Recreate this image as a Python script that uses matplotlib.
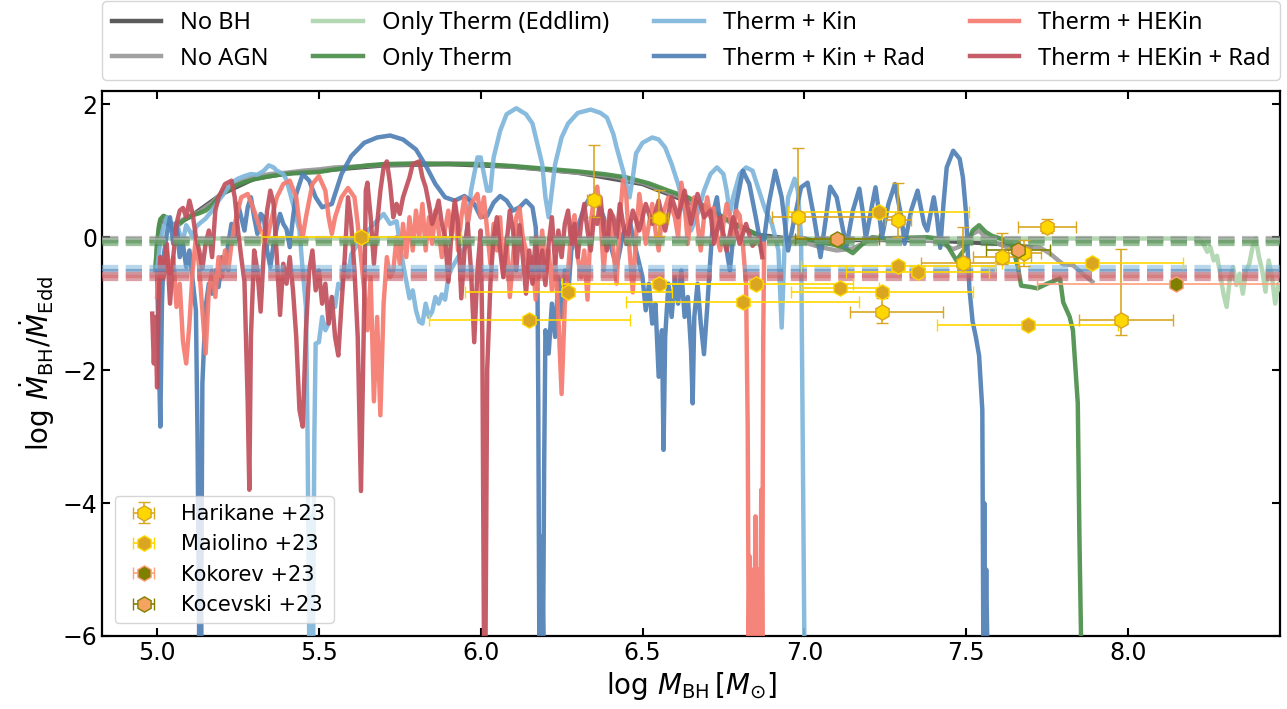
import matplotlib
matplotlib.use('Agg')
import matplotlib.pyplot as plt

# ---- simulation tracks, (log M_BH, log Mdot/Mdot_Edd) ----
no_bh = [(5.00, -0.4), (5.01, 0.25), (5.05, 0.18), (5.10, 0.30), (5.20, 0.65), (5.30, 0.88),
         (5.40, 0.96), (5.50, 1.00), (5.70, 1.08), (5.90, 1.10), (6.10, 1.06), (6.30, 0.97),
         (6.50, 0.80), (6.70, 0.42), (6.85, 0.04), (7.00, -0.05), (7.20, -0.04), (7.40, -0.05),
         (7.60, -0.10), (7.70, -0.15)]

no_agn = [(4.995, -0.5), (5.00, -0.1), (5.01, 0.25), (5.02, 0.32), (5.04, 0.20), (5.06, 0.20),
          (5.09, 0.30), (5.13, 0.38), (5.17, 0.52), (5.21, 0.72), (5.25, 0.82), (5.30, 0.91),
          (5.35, 0.95), (5.40, 0.97), (5.45, 1.00), (5.50, 1.02), (5.55, 1.05), (5.60, 1.06),
          (5.70, 1.09), (5.80, 1.10), (5.90, 1.11), (6.00, 1.10), (6.10, 1.06), (6.20, 1.02),
          (6.30, 0.97), (6.40, 0.92), (6.50, 0.82), (6.56, 0.71), (6.62, 0.60), (6.68, 0.45),
          (6.72, 0.35), (6.76, 0.25), (6.80, 0.15), (6.85, 0.05), (6.90, -0.02), (6.95, -0.05),
          (7.00, -0.08), (7.05, -0.15), (7.10, -0.20), (7.15, -0.17), (7.20, -0.05), (7.28, -0.02),
          (7.36, -0.03), (7.42, -0.08), (7.46, -0.18), (7.50, -0.10), (7.52, 0.05), (7.54, 0.10),
          (7.56, 0.00), (7.58, -0.06), (7.61, -0.12), (7.63, -0.16), (7.66, -0.18), (7.70, -0.15),
          (7.73, -0.16), (7.76, -0.25), (7.80, -0.41), (7.83, -0.42), (7.86, -0.55), (7.89, -0.67)]

eddlim = [(4.995, -0.45), (5.005, -0.1), (5.015, -0.02), (8.22, -0.02), (8.235, -0.12),
          (8.245, -0.22), (8.255, -0.15), (8.265, -0.35), (8.275, -0.28), (8.285, -0.55),
          (8.295, -0.85), (8.305, -1.05), (8.315, -0.62), (8.325, -0.45), (8.335, -0.72),
          (8.345, -0.55), (8.355, -0.85), (8.365, -0.50), (8.375, -0.40), (8.385, -0.15),
          (8.395, -0.02), (8.405, -0.30), (8.415, -0.50), (8.425, -0.82), (8.435, -0.35),
          (8.445, -0.60), (8.455, -1.00), (8.465, -0.70), (8.475, -0.80)]

only_therm = [(4.995, -0.45), (5.00, -0.1), (5.005, 0.15), (5.01, 0.27), (5.02, 0.32), (5.03, 0.30),
              (5.04, 0.18), (5.05, 0.13), (5.06, 0.16), (5.07, 0.20), (5.09, 0.28), (5.11, 0.33),
              (5.13, 0.36), (5.15, 0.40), (5.17, 0.48), (5.19, 0.60), (5.21, 0.68), (5.24, 0.77),
              (5.27, 0.83), (5.30, 0.87), (5.34, 0.91), (5.38, 0.94), (5.42, 0.96), (5.46, 0.97),
              (5.50, 0.98), (5.55, 1.02), (5.60, 1.05), (5.65, 1.08), (5.70, 1.10), (5.80, 1.11),
              (5.90, 1.10), (6.00, 1.10), (6.10, 1.07), (6.20, 1.03), (6.30, 0.99), (6.38, 0.95),
              (6.45, 0.90), (6.52, 0.81), (6.58, 0.70), (6.64, 0.60), (6.70, 0.45), (6.75, 0.30),
              (6.80, 0.17), (6.85, 0.05), (6.89, -0.01), (6.93, -0.02), (6.98, -0.01), (7.03, -0.05),
              (7.08, -0.10), (7.12, -0.15), (7.15, -0.24), (7.18, -0.10), (7.21, 0.00), (7.25, -0.02),
              (7.30, -0.01), (7.38, 0.00), (7.43, -0.03), (7.47, -0.35), (7.50, -0.15), (7.52, 0.10),
              (7.54, 0.18), (7.56, 0.08), (7.58, 0.02), (7.60, -0.01), (7.62, -0.05), (7.64, -0.09),
              (7.66, -0.45), (7.67, -0.73), (7.70, -0.75), (7.72, -0.77), (7.75, -0.70), (7.79, -0.62),
              (7.80, -0.98), (7.82, -1.20), (7.83, -1.40), (7.845, -2.5), (7.85, -4.5), (7.855, -6.0)]

therm_kin = [(5.00, -0.5), (5.01, -0.05), (5.02, 0.15), (5.03, 0.30), (5.04, 0.25), (5.05, 0.10),
             (5.06, 0.22), (5.07, 0.05), (5.08, -0.05), (5.09, 0.18), (5.10, 0.10), (5.11, 0.00),
             (5.12, 0.15), (5.13, 0.20), (5.15, 0.28), (5.17, 0.40), (5.19, 0.55), (5.21, 0.68),
             (5.23, 0.82), (5.25, 0.88), (5.27, 0.92), (5.29, 0.95), (5.31, 0.94), (5.33, 1.00),
             (5.345, 1.08), (5.36, 1.05), (5.37, 1.00), (5.39, 0.95), (5.40, 0.86), (5.42, 0.50),
             (5.44, 0.10), (5.45, -0.50), (5.46, -1.05), (5.465, -3.0), (5.47, -6.0), (5.473, -4.2),
             (5.476, -6.0), (5.479, -5.0), (5.482, -6.0), (5.486, -3.0), (5.49, -1.6), (5.50, -1.58),
             (5.51, -1.2), (5.52, -1.4), (5.53, -1.3), (5.54, -0.9), (5.55, -1.05), (5.56, -0.7),
             (5.57, -0.78), (5.58, -0.4), (5.59, -0.6), (5.60, -0.26), (5.62, -0.1), (5.64, 0.0),
             (5.65, 0.09), (5.67, 0.2), (5.70, 0.35), (5.72, 0.2), (5.74, 0.24), (5.76, -0.4),
             (5.78, -0.92), (5.79, -0.8), (5.80, -1.1), (5.81, -1.27), (5.82, -1.3), (5.83, -1.0),
             (5.84, -1.2), (5.85, -1.12), (5.86, -0.9), (5.87, -1.0), (5.88, -0.86), (5.89, -0.94),
             (5.90, -0.6), (5.91, -0.47), (5.93, -0.3), (5.95, -0.16), (5.96, 0.2), (5.97, 0.7),
             (5.99, 1.2), (6.00, 1.2), (6.02, 0.7), (6.03, 0.7), (6.04, 1.2), (6.06, 1.6),
             (6.08, 1.85), (6.11, 1.94), (6.14, 1.85), (6.16, 1.71), (6.18, 1.3), (6.19, 1.1),
             (6.20, 0.6), (6.21, 0.3), (6.22, 0.7), (6.23, 1.1), (6.25, 1.5), (6.27, 1.71),
             (6.30, 1.87), (6.34, 1.92), (6.37, 1.87), (6.39, 1.8), (6.41, 1.55), (6.42, 1.35),
             (6.44, 1.0), (6.45, 0.8), (6.46, 0.6), (6.47, 0.9), (6.48, 1.26), (6.50, 1.42),
             (6.53, 1.5), (6.55, 1.47), (6.57, 1.35), (6.59, 1.1), (6.61, 0.8), (6.63, 0.4),
             (6.65, 0.1), (6.67, 0.35), (6.69, 0.7), (6.71, 0.95), (6.73, 1.05), (6.75, 0.95),
             (6.76, 0.7), (6.77, 0.35), (6.78, 0.6), (6.80, 0.95), (6.82, 1.05), (6.84, 1.0),
             (6.86, 0.7), (6.88, 0.4), (6.90, 0.2), (6.92, -0.2), (6.93, -1.36), (6.94, 0.0),
             (6.95, 0.6), (6.97, 0.88), (6.98, 0.7), (6.99, 0.0), (6.995, -3.0), (7.00, -6.0)]

therm_kin_rad = [(5.00, -0.5), (5.01, -2.85), (5.015, -1.0), (5.02, -0.3), (5.03, 0.05), (5.04, 0.3),
                 (5.05, -0.1), (5.06, 0.2), (5.07, -0.3), (5.08, -0.1), (5.09, -0.45), (5.10, -0.2),
                 (5.11, -0.65), (5.12, -1.1), (5.125, -3.0), (5.13, -6.0), (5.133, -4.5), (5.136, -6.0),
                 (5.14, -2.2), (5.15, -1.05), (5.16, -0.7), (5.17, -0.85), (5.18, -0.5), (5.19, -0.75),
                 (5.20, -0.3), (5.21, -0.45), (5.22, -0.1), (5.23, 0.2), (5.24, 0.0), (5.25, 0.5),
                 (5.26, 0.3), (5.27, 0.1), (5.28, 0.45), (5.29, 0.6), (5.30, 0.3), (5.31, 0.05),
                 (5.32, 0.35), (5.33, 0.3), (5.34, -0.2), (5.35, -0.45), (5.36, -0.1), (5.37, 0.15),
                 (5.38, 0.35), (5.39, 0.2), (5.40, 0.12), (5.41, -0.15), (5.42, 0.3), (5.43, 0.65),
                 (5.45, 0.95), (5.47, 0.85), (5.49, 0.6), (5.51, 0.45), (5.54, 0.5), (5.57, 0.95),
                 (5.60, 1.22), (5.64, 1.42), (5.68, 1.5), (5.72, 1.53), (5.76, 1.47), (5.80, 1.32),
                 (5.83, 1.08), (5.86, 0.8), (5.89, 0.6), (5.92, 0.55), (5.95, 0.62), (5.98, 0.5),
                 (6.00, 0.3), (6.02, 0.32), (6.04, 0.52), (6.06, 0.62), (6.08, 0.55), (6.10, 0.4),
                 (6.12, 0.45), (6.14, 0.55), (6.16, 0.45), (6.17, 0.15), (6.175, -0.4), (6.178, -2.5),
                 (6.181, -6.0), (6.184, -4.5), (6.187, -6.0), (6.190, -5.0), (6.193, -6.0),
                 (6.196, -3.5), (6.20, -1.4), (6.21, -1.75), (6.22, -1.0), (6.23, -1.5),
                 (6.24, -0.6), (6.25, -1.2), (6.26, -0.5), (6.27, -0.9), (6.28, -0.2), (6.30, 0.15),
                 (6.32, 0.45), (6.34, 0.62), (6.36, 0.55), (6.38, 0.3), (6.40, -0.1), (6.42, -0.45),
                 (6.44, 0.05), (6.46, 0.25), (6.48, -0.2), (6.50, -0.6), (6.51, -1.1), (6.52, -0.7),
                 (6.53, -1.3), (6.54, -1.0), (6.55, -2.1), (6.56, -1.4), (6.565, -3.2), (6.57, -1.5),
                 (6.58, -0.7), (6.59, -1.2), (6.60, -0.6), (6.61, -1.0), (6.62, -0.5), (6.63, -1.2),
                 (6.64, -0.9), (6.65, -1.7), (6.655, -2.5), (6.66, -1.2), (6.67, -0.7), (6.68, -1.3),
                 (6.69, -1.76), (6.70, -1.05), (6.71, -0.3), (6.72, 0.4), (6.73, 0.6), (6.74, 0.2),
                 (6.76, -0.2), (6.77, -0.5), (6.79, 0.5), (6.81, 1.0), (6.83, 0.8), (6.85, 0.3),
                 (6.87, -0.24), (6.89, 0.5), (6.91, 1.0), (6.93, 0.6), (6.95, -0.2), (6.97, 0.3),
                 (6.99, 0.75), (7.01, 0.82), (7.03, 0.3), (7.05, -0.3), (7.07, 0.4), (7.08, 0.76),
                 (7.10, 0.6), (7.12, 0.1), (7.13, -0.14), (7.15, 0.4), (7.17, 0.73), (7.18, 0.4),
                 (7.19, -0.02), (7.21, 0.5), (7.22, 0.75), (7.23, 0.4), (7.24, 0.0), (7.26, 0.5),
                 (7.28, 0.8), (7.30, 0.3), (7.31, -0.1), (7.33, 0.4), (7.35, 0.7), (7.37, 0.2),
                 (7.38, 0.1), (7.40, 0.6), (7.41, 0.3), (7.42, -0.16), (7.43, 0.5), (7.44, 1.05),
                 (7.46, 1.3), (7.48, 1.18), (7.49, 0.9), (7.50, 0.35), (7.51, -0.77), (7.52, -1.27),
                 (7.53, -1.5), (7.54, -1.78), (7.55, -2.6), (7.553, -6.0), (7.556, -4.0),
                 (7.559, -6.0), (7.562, -5.0), (7.565, -6.0)]

therm_hekin = [(5.00, -0.9), (5.01, -0.3), (5.02, -0.55), (5.03, -0.2), (5.04, -0.55), (5.05, -0.3),
               (5.06, -1.05), (5.07, -0.7), (5.08, -1.57), (5.09, -1.9), (5.10, -1.3), (5.11, -0.5),
               (5.12, 0.0), (5.13, -0.45), (5.14, -1.1), (5.15, -1.75), (5.16, -0.8), (5.17, -0.5),
               (5.18, -0.9), (5.19, -0.3), (5.20, -0.6), (5.21, -0.2), (5.22, -0.5), (5.23, -0.1),
               (5.24, 0.2), (5.25, 0.4), (5.26, 0.6), (5.28, 0.65), (5.30, 0.4), (5.32, 0.1),
               (5.34, -0.06), (5.35, 0.2), (5.37, 0.6), (5.39, 0.8), (5.41, 0.85), (5.43, 0.6),
               (5.44, 0.2), (5.45, 0.0), (5.46, 0.3), (5.48, 0.8), (5.50, 0.92), (5.52, 0.7),
               (5.53, 0.3), (5.54, 0.05), (5.55, 0.3), (5.57, 0.6), (5.59, 0.74), (5.61, 0.6),
               (5.62, 0.2), (5.63, -0.3), (5.64, -0.8), (5.65, -1.4), (5.66, -0.6), (5.67, -2.47),
               (5.68, -1.2), (5.69, -2.68), (5.70, -1.0), (5.71, -0.3), (5.72, -0.6), (5.73, -0.5),
               (5.74, 0.0), (5.75, -0.4), (5.76, 0.2), (5.77, -0.3), (5.78, 0.3), (5.79, -0.2),
               (5.80, 0.4), (5.81, 0.0), (5.82, 0.5), (5.83, -0.2), (5.84, 0.3), (5.85, -0.1),
               (5.86, 0.4), (5.87, 0.1), (5.88, -0.3), (5.89, 0.12), (5.90, 0.4), (5.91, 0.0),
               (5.92, 0.5), (5.93, -0.2), (5.94, 0.3), (5.95, 0.6), (5.96, 0.2), (5.97, 0.5),
               (5.99, 0.65), (6.00, 0.3), (6.01, 0.6), (6.02, 0.1), (6.03, -0.4), (6.04, 0.2),
               (6.05, -0.2), (6.06, 0.3), (6.07, -0.6), (6.08, 0.0), (6.09, -0.9), (6.10, -0.3),
               (6.11, 0.3), (6.12, 0.44), (6.13, 0.0), (6.14, -0.2), (6.15, -0.6), (6.16, -0.3),
               (6.17, -0.94), (6.18, -0.4), (6.19, 0.1), (6.20, -0.5), (6.21, -0.2), (6.22, -0.8),
               (6.23, -0.3), (6.24, -1.2), (6.25, -2.36), (6.26, -1.0), (6.27, -0.5), (6.28, 0.1),
               (6.29, 0.33), (6.30, -0.3), (6.31, -0.6), (6.32, -0.2), (6.33, -0.94), (6.34, 0.2),
               (6.35, 0.6), (6.36, 0.76), (6.37, 0.3), (6.38, -0.5), (6.39, 0.1), (6.40, 0.4),
               (6.41, -0.2), (6.42, -0.7), (6.43, 0.3), (6.44, 0.86), (6.45, 0.6), (6.46, -0.2),
               (6.47, -0.83), (6.48, 0.0), (6.49, 0.65), (6.50, 0.3), (6.51, -0.1), (6.53, 0.5),
               (6.54, 0.1), (6.55, -0.2), (6.56, 0.3), (6.58, 0.6), (6.60, 0.3), (6.61, 0.0),
               (6.62, 0.82), (6.63, 0.5), (6.64, -0.1), (6.65, 0.4), (6.66, 0.6), (6.67, 0.2),
               (6.68, -0.2), (6.69, 0.3), (6.70, 0.6), (6.71, 0.3), (6.72, 0.44), (6.73, 0.0),
               (6.74, -0.2), (6.75, 0.2), (6.76, 0.5), (6.77, 0.3), (6.78, 0.0), (6.79, 0.4),
               (6.80, 0.33), (6.81, -0.1), (6.82, -0.72), (6.825, -2.85), (6.828, -6.0),
               (6.831, -4.8), (6.834, -6.0), (6.837, -5.4), (6.840, -6.0), (6.843, -5.0),
               (6.846, -6.0), (6.849, -4.2), (6.852, -6.0), (6.855, -5.5), (6.858, -6.0),
               (6.861, -5.0), (6.864, -6.0), (6.867, -3.8), (6.870, -6.0), (6.873, -1.5),
               (6.876, -0.1)]

therm_hekin_rad = [(4.985, -1.15), (4.99, -1.9), (4.995, -1.2), (5.00, -2.26), (5.005, -0.9),
                   (5.01, -0.3), (5.02, -0.6), (5.03, -0.1), (5.04, -1.0), (5.05, -0.3), (5.06, 0.2),
                   (5.07, 0.4), (5.08, 0.44), (5.09, 0.3), (5.10, 0.55), (5.11, 0.35), (5.12, 0.0),
                   (5.13, -0.2), (5.14, -0.47), (5.15, -0.1), (5.16, 0.1), (5.17, -0.3), (5.18, 0.4),
                   (5.19, 0.6), (5.20, 0.7), (5.21, 0.8), (5.23, 0.85), (5.24, 0.6), (5.25, 0.1),
                   (5.26, -0.3), (5.27, -0.67), (5.28, -2.48), (5.285, -3.8), (5.29, -1.5), (5.30, -0.2),
                   (5.31, -0.5), (5.32, -1.12), (5.33, -0.2), (5.34, 0.4), (5.35, 0.7), (5.36, 0.5),
                   (5.37, -0.3), (5.38, -1.17), (5.39, -0.4), (5.40, -0.7), (5.41, -0.3), (5.42, -0.8),
                   (5.43, -1.5), (5.44, -2.6), (5.45, -2.85), (5.46, -1.4), (5.47, -0.5), (5.48, -0.2),
                   (5.49, -0.8), (5.50, -0.5), (5.51, -1.0), (5.52, -0.7), (5.53, -1.3), (5.54, -0.9),
                   (5.55, -1.5), (5.56, -1.78), (5.57, -1.0), (5.58, -0.3), (5.59, 0.6), (5.60, 0.2),
                   (5.61, -0.5), (5.62, -1.5), (5.63, -3.82), (5.64, -1.0), (5.645, 0.7), (5.65, 0.82),
                   (5.66, 0.3), (5.67, -0.4), (5.68, 0.2), (5.69, 0.7), (5.70, 1.05), (5.71, 1.14),
                   (5.72, 0.8), (5.73, 0.3), (5.74, 0.5), (5.75, 0.35), (5.76, 0.6), (5.78, 0.9),
                   (5.79, 1.1), (5.81, 1.14), (5.82, 0.9), (5.83, 0.75), (5.84, 0.5), (5.85, 0.2),
                   (5.86, 0.35), (5.87, 0.55), (5.88, 0.2), (5.89, 0.0), (5.90, -0.67), (5.91, 0.1),
                   (5.92, 0.55), (5.93, 0.2), (5.94, -0.92), (5.95, -0.2), (5.96, 0.2), (5.97, -0.5),
                   (5.98, -1.58), (5.99, -0.5), (6.00, 0.1), (6.005, -1.5), (6.01, -6.0), (6.015, -6.0),
                   (6.02, -2.0), (6.03, -0.7), (6.04, 0.0), (6.05, 0.3), (6.06, -0.2), (6.07, -0.6),
                   (6.08, -0.1), (6.09, 0.4), (6.10, 0.1), (6.11, -0.5), (6.12, 0.18), (6.13, -0.3),
                   (6.14, -0.85), (6.15, -0.2), (6.16, -0.7), (6.17, 0.0), (6.18, -0.6), (6.19, -0.2),
                   (6.20, -0.72), (6.21, -0.1), (6.22, 0.3), (6.23, -0.4), (6.24, 0.1), (6.25, -0.3),
                   (6.26, 0.2), (6.27, 0.4), (6.28, -0.1), (6.29, 0.2), (6.30, -0.3), (6.31, 0.2),
                   (6.32, 0.5), (6.33, 0.1), (6.34, -0.2), (6.35, 0.3), (6.36, 0.2), (6.37, 0.6),
                   (6.38, 0.1), (6.39, -0.2), (6.40, 0.4), (6.41, 0.3), (6.42, 0.0), (6.43, 0.5),
                   (6.44, 0.2), (6.45, -0.1), (6.47, 0.4), (6.49, 0.1), (6.51, 0.5), (6.53, 0.2),
                   (6.55, 0.55), (6.57, 0.1), (6.59, 0.6), (6.61, 0.3), (6.63, 0.7), (6.65, 0.2),
                   (6.67, 0.65), (6.69, 0.3), (6.71, 0.4), (6.72, -0.1), (6.74, 0.3), (6.76, -0.2),
                   (6.78, 0.3), (6.80, -0.1), (6.82, 0.2), (6.84, -0.13), (6.86, 0.0), (6.87, -0.3)]

# time-averaged accretion rate of each run (dashed lines)
run_means = [-0.04, -0.03, -0.06, -0.09, -0.47, -0.52, -0.57, -0.62]

run_labels = ['No BH', 'No AGN', 'Only Therm (Eddlim)', 'Only Therm',
              'Therm + Kin', 'Therm + Kin + Rad', 'Therm + HEKin', 'Therm + HEKin + Rad']
run_colors = ['#4d4d4d', '#999999', '#aed4ae', '#4b8f4b',
              '#7eb6da', '#4f7fb6', '#f57b6f', '#c0505c']

# ---- observed JWST AGN ----
har_x = [6.35, 6.55, 6.98, 7.29, 7.24, 7.49, 7.61, 7.68, 7.75, 7.98]
har_y = [0.56, 0.29, 0.31, 0.26, -1.12, -0.39, -0.30, -0.24, 0.15, -1.24]
har_ylo = [0.26, 0.27, 0.30, 0.26, 0.17, 0.09, 0.10, 0.20, 0.08, 0.23]
har_yhi = [0.82, 0.42, 1.03, 0.56, 0.20, 0.54, 0.36, 0.20, 0.12, 1.06]
har_xlo = [0.02, 0.03, 0.08, 0.04, 0.10, 0.13, 0.09, 0.05, 0.09, 0.13]
har_xhi = [0.02, 0.03, 0.30, 0.04, 0.19, 0.17, 0.09, 0.05, 0.09, 0.16]

mai_x = [5.63, 6.15, 6.27, 6.55, 6.81, 6.85, 7.11, 7.23, 7.29, 7.35, 7.24, 7.69, 7.89]
mai_y = [0.0, -1.24, -0.82, -0.71, -0.98, -0.71, -0.77, 0.38, -0.44, -0.52, -0.82, -1.32, -0.39]
mai_xerr = [0.31, 0.31, 0.32, 0.30, 0.36, 0.30, 0.12, 0.28, 0.30, 0.22, 0.28, 0.28, 0.28]

kok_x = [8.15]
kok_y = [-0.71]
kok_xerr = [0.43]

koc_x = [7.10, 7.66]
koc_y = [-0.02, -0.20]
koc_xerr = [0.13, 0.10]

fig = plt.figure(figsize=(12.87, 7.09), dpi=100)
ax = fig.add_axes([0.0793, 0.103, 0.9153, 0.7687])

runs = [no_bh, no_agn, eddlim, only_therm, therm_kin, therm_kin_rad, therm_hekin, therm_hekin_rad]
line_handles = []
for i, pts in enumerate(runs):
    x, y = zip(*pts)
    h, = ax.plot(x, y, color=run_colors[i], lw=3.2, alpha=0.92, label=run_labels[i], zorder=2 + i)
    line_handles.append(h)

for i, m in enumerate(run_means):
    ax.axhline(m, color=run_colors[i], lw=4.5, alpha=0.55, ls=(0, (2.6, 1.2)), zorder=12)

ekw = dict(fmt='h', ms=11, elinewidth=1.2, capsize=4, zorder=20)
e1 = ax.errorbar(har_x, har_y, xerr=[har_xlo, har_xhi], yerr=[har_ylo, har_yhi],
                 mfc='#FFD700', mec='#DAA520', ecolor='#DAA520', label='Harikane +23', **ekw)
e2 = ax.errorbar(mai_x, mai_y, xerr=mai_xerr, mfc='#DAA520', mec='#FFD700', ecolor='#FFD700',
                 label='Maiolino +23', **ekw)
e3 = ax.errorbar(kok_x, kok_y, xerr=kok_xerr, mfc='#808000', mec='#FFA07A', ecolor='#FFA07A',
                 label='Kokorev +23', **ekw)
e4 = ax.errorbar(koc_x, koc_y, xerr=koc_xerr, mfc='#F4A460', mec='#808000', ecolor='#808000',
                 label='Kocevski +23', **ekw)

ax.set_xlim(4.83, 8.47)
ax.set_ylim(-6, 2.2)
ax.set_xticks([5.0, 5.5, 6.0, 6.5, 7.0, 7.5, 8.0])
ax.set_yticks([-6, -4, -2, 0, 2])
ax.tick_params(direction='in', top=True, right=True, length=6, width=1.5, labelsize=17)
for s in ax.spines.values():
    s.set_linewidth(1.6)

ax.set_xlabel(r'$\log\,M_{\rm BH}\,[M_{\odot}]$', fontsize=20)
ax.set_ylabel(r'$\log\,\dot{M}_{\rm BH}/\dot{M}_{\rm Edd}$', fontsize=20)

top_leg = ax.legend(handles=line_handles, loc='lower left', bbox_to_anchor=(0, 1.02, 1, 0.12),
                    mode='expand', ncol=4, borderaxespad=0, handlelength=2.1,
                    prop={'family': 'Noto Sans', 'size': 17})
ax.add_artist(top_leg)
obs_leg = ax.legend(handles=[e1, e2, e3, e4], loc='lower left', fontsize=15, borderaxespad=0.6)
obs_leg.set_zorder(40)

plt.savefig('out.png', dpi=100)
